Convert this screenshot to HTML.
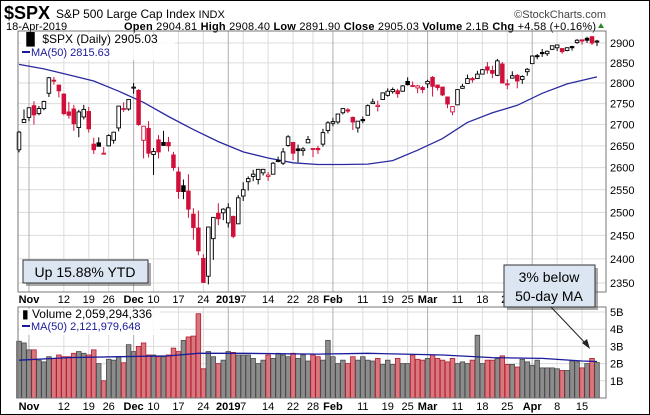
<!DOCTYPE html>
<html><head><meta charset="utf-8">
<style>
body{margin:0;background:#fff;}
svg{display:block;font-family:"Liberation Sans",sans-serif;}
</style></head>
<body>
<svg id="c" width="650" height="415" viewBox="0 0 650 415" xmlns="http://www.w3.org/2000/svg">
<rect x="0.5" y="0.5" width="649" height="414" fill="#fff" stroke="#000"/>
<text x="4" y="19" font-size="18" font-weight="bold">$SPX</text>
<text x="56" y="18" font-size="12">S&amp;P 500 Large Cap Index <tspan font-size="11">INDX</tspan></text>
<text x="606" y="18" font-size="11" fill="#444" text-anchor="end">©StockCharts.com</text>
<text x="6" y="30" font-size="11">18-Apr-2019</text>
<text x="124" y="30" font-size="11" textLength="472" lengthAdjust="spacing"><tspan font-weight="bold">Open</tspan> 2904.81 <tspan font-weight="bold">High</tspan> 2908.40 <tspan font-weight="bold">Low</tspan> 2891.90 <tspan font-weight="bold">Close</tspan> 2905.03 <tspan font-weight="bold">Volume</tspan> 2.1B <tspan font-weight="bold">Chg</tspan> +4.58 (+0.16%)</text>
<path d="M598 28 L604 28 L601 23 Z" fill="#2a8a2a"/>
<g id="grid"></g>
<g id="marks"></g>
<g id="axes"></g>
<rect x="18" y="31" width="588" height="261" fill="none" stroke="#777"/>
<rect x="18" y="307" width="588" height="91" fill="none" stroke="#777"/>
<rect x="20" y="34" width="155" height="26" fill="#fff" opacity="0.85"/>
<text x="22" y="43" font-size="12">&#x2590;&#x258C; $SPX (Daily) 2905.03</text>
<line x1="22" y1="52" x2="30" y2="52" stroke="#1a1a9a" stroke-width="2"/>
<text x="31" y="56" font-size="11" fill="#1a1a9a">MA(50) 2815.63</text>
<rect x="20" y="309" width="140" height="26" fill="#fff" opacity="0.85"/>
<text x="22" y="318" font-size="12">▮ Volume 2,059,294,336</text>
<line x1="22" y1="326" x2="30" y2="326" stroke="#1a1a9a" stroke-width="2"/>
<text x="31" y="330" font-size="11" fill="#1a1a9a">MA(50) 2,121,979,648</text>
<rect x="26" y="263" width="125" height="23" fill="#555" opacity="0.5"/>
<rect x="23" y="260" width="125" height="23" fill="#dce6f2" stroke="#333"/>
<text x="85" y="277" font-size="14" text-anchor="middle">Up 15.88% YTD</text>
<rect x="507" y="268" width="91" height="42" fill="#555" opacity="0.5"/>
<rect x="504" y="265" width="91" height="42" fill="#dce6f2" stroke="#333"/>
<text x="549" y="282" font-size="14" text-anchor="middle">3% below</text>
<text x="549" y="301" font-size="14" text-anchor="middle">50-day MA</text>
<line x1="551" y1="307" x2="587" y2="345" stroke="#222" stroke-width="1"/>
<path d="M590 349 L582 343 L587 339 Z" fill="#222"/>
</svg>
<script>
const dates=["O30","O31","N1","N2","N5","N6","N7","N8","N9","N12","N13","N14","N15","N16","N19","N20","N21","N23","N26","N27","N28","N29","N30","D3","D4","D6","D7","D10","D11","D12","D13","D14","D17","D18","D19","D20","D21","D24","D26","D27","D28","D31","J2","J3","J4","J7","J8","J9","J10","J11","J14","J15","J16","J17","J18","J22","J23","J24","J25","J28","J29","J30","J31","F1","F4","F5","F6","F7","F8","F11","F12","F13","F14","F15","F19","F20","F21","F22","F25","F26","F27","F28","M1","M4","M5","M6","M7","M8","M11","M12","M13","M14","M15","M18","M19","M20","M21","M22","M25","M26","M27","M28","M29","A1","A2","A3","A4","A5","A8","A9","A10","A11","A12","A15","A16","A17","A18"];
const opens=[2641,2705,2717,2745,2726,2738,2775,2807,2795,2773,2730,2737,2693,2718,2731,2654,2657,2633,2650,2663,2692,2737,2737,2790,2782,2663,2691,2630,2664,2658,2658,2629,2590,2559,2547,2496,2466,2401,2364,2443,2498,2499,2477,2491,2475,2536,2568,2580,2573,2588,2580,2585,2614,2610,2651,2658,2643,2639,2657,2644,2644,2654,2686,2703,2706,2728,2735,2717,2692,2712,2722,2750,2743,2760,2770,2779,2781,2780,2804,2792,2788,2789,2798,2814,2795,2790,2766,2730,2747,2787,2799,2811,2811,2822,2840,2831,2819,2847,2796,2812,2819,2809,2828,2848,2868,2876,2873,2884,2888,2886,2881,2891,2901,2908,2912,2916,2905];
const highs=[2685,2736,2741,2756,2744,2757,2815,2815,2796,2775,2754,2747,2735,2747,2742,2669,2670,2647,2677,2683,2744,2753,2760,2800,2785,2696,2708,2645,2675,2685,2671,2636,2601,2573,2585,2509,2504,2410,2468,2489,2520,2509,2520,2493,2538,2567,2580,2595,2597,2597,2590,2613,2625,2645,2675,2659,2653,2647,2673,2644,2650,2690,2708,2716,2725,2738,2739,2719,2708,2719,2748,2762,2757,2775,2787,2789,2786,2795,2814,2804,2795,2793,2808,2817,2796,2791,2767,2744,2784,2798,2821,2815,2830,2835,2852,2843,2860,2852,2809,2829,2822,2819,2837,2869,2872,2885,2881,2893,2895,2886,2889,2893,2910,2909,2916,2918,2908];
const lows=[2635,2705,2708,2700,2722,2734,2766,2796,2765,2722,2714,2685,2670,2712,2681,2631,2649,2631,2649,2655,2684,2730,2733,2774,2697,2621,2623,2583,2621,2651,2637,2593,2530,2529,2488,2441,2408,2351,2347,2398,2472,2483,2467,2444,2475,2525,2548,2569,2562,2582,2570,2585,2612,2606,2648,2617,2612,2627,2657,2624,2631,2648,2679,2696,2701,2724,2727,2687,2681,2703,2722,2749,2731,2760,2767,2774,2764,2779,2794,2790,2775,2775,2788,2767,2782,2768,2739,2722,2747,2786,2799,2801,2810,2821,2823,2812,2817,2800,2785,2812,2787,2798,2818,2848,2859,2865,2867,2882,2880,2873,2879,2881,2898,2896,2900,2895,2892];
const closes=[2682,2712,2740,2723,2738,2755,2813,2806,2781,2726,2722,2702,2730,2736,2690,2641,2649,2633,2674,2682,2744,2738,2760,2790,2700,2696,2633,2637,2636,2651,2650,2600,2546,2546,2507,2467,2417,2351,2468,2489,2486,2507,2510,2448,2532,2550,2575,2585,2596,2596,2583,2610,2616,2636,2671,2633,2639,2643,2665,2644,2641,2681,2704,2707,2725,2738,2732,2706,2708,2709,2745,2754,2746,2776,2780,2784,2774,2793,2796,2794,2793,2784,2804,2792,2789,2771,2749,2743,2784,2792,2811,2808,2822,2833,2832,2824,2855,2800,2798,2818,2805,2816,2834,2867,2867,2873,2879,2893,2895,2878,2888,2888,2907,2905,2907,2900,2905];
const volumes=[3.3,3.2,2.8,2.8,2.2,2.1,2.4,2.3,2.5,2.4,2.4,2.6,2.7,2.6,2.5,2.8,2.0,1.0,2.25,2.2,2.4,2.05,3.1,2.7,3.0,3.2,2.5,2.5,2.4,2.4,2.5,2.9,2.7,3.35,3.55,3.6,4.9,1.7,2.7,2.4,2.0,2.2,2.7,2.65,2.5,2.5,2.5,2.3,2.0,2.2,2.5,2.3,2.6,2.5,2.4,2.6,2.3,2.5,2.15,2.5,2.4,2.2,3.35,2.4,2.0,2.2,2.0,2.4,2.2,2.4,2.2,2.15,2.3,1.95,2.2,1.95,2.3,2.0,2.0,2.5,2.25,2.2,2.3,2.5,2.3,2.2,2.1,2.3,2.0,2.1,2.0,2.2,3.65,2.0,2.2,2.2,2.3,2.45,1.95,1.95,1.8,2.25,2.1,1.9,2.2,1.75,1.75,1.75,1.7,1.6,1.6,2.15,2.1,1.75,2.0,2.3,2.06];
const maIdx=[0,5,10,15,20,25,30,35,40,45,50,55,60,65,70,75,80,85,90,95,100,105,110,116];
const maVals=[2846,2835,2820,2805,2780,2753,2719,2688,2660,2636,2622,2611,2607,2607,2608,2616,2640,2667,2705,2728,2746,2775,2798,2815];
const volMaIdx=[0,10,20,30,36,45,60,70,85,95,105,113,116];
const volMaVals=[2.2,2.35,2.4,2.45,2.6,2.6,2.55,2.6,2.5,2.35,2.3,2.15,2.12];
const priceTicks=[2350,2400,2450,2500,2550,2600,2650,2700,2750,2800,2850,2900];
const volTicks=[1,2,3,4,5];
const volTickLabels=["1B","2B","3B","4B","5B"];
const xTickIdx=[2,9,14,18,23,27,32,37,42,45,50,55,59,63,69,74,78,82,88,93,98,103,108,113];
const xTickLabels=["Nov","12","19","26","Dec","10","17","24","2019","7","14","22","28","Feb","11","19","25","Mar","11","18","25","Apr","8","15"];
const xTickMajor=[1,0,0,0,1,0,0,0,1,0,0,0,0,1,0,0,0,1,0,0,0,1,0,0];

const NS="http://www.w3.org/2000/svg";
const X0=19,X1=597,N=dates.length;
function xS(i){return X0+i*(X1-X0)/(N-1);}
function yP(p){return 43+1141*Math.log(2900/p);}
function yV(v){return 398-v*17.2;}
function mk(tag,attrs,parent){const e=document.createElementNS(NS,tag);for(const k in attrs)e.setAttribute(k,attrs[k]);parent.appendChild(e);return e;}
const grid=document.getElementById('grid'),marks=document.getElementById('marks'),axes=document.getElementById('axes');

priceTicks.forEach(p=>{
  const l=mk('line',{x1:18,x2:606,y1:yP(p),y2:yP(p),stroke:'#dcdcdc'},grid);
  
  
  const t=mk('text',{x:610,y:yP(p)+4,'font-size':11},axes);
  t.textContent=p;
  
  
});
volTicks.forEach((v,k)=>{
  const l=mk('line',{x1:18,x2:606,y1:yV(v),y2:yV(v),stroke:'#dcdcdc'},grid);
  
  
  const t=mk('text',{x:610,y:yV(v)+4,'font-size':11},axes);
  t.textContent=volTickLabels[k];
  
  
});
xTickIdx.forEach((i,k)=>{
  const x=xS(i);
  const c=xTickMajor[k]?'#b0b0b0':'#dcdcdc';
  const l1=mk('line',{x1:x,x2:x,y1:31,y2:292,stroke:c},grid);
  
  
  const l2=mk('line',{x1:x,x2:x,y1:307,y2:398,stroke:c},grid);
  
  
  [303,410].forEach(yy=>{
    const t=mk('text',{x:x,y:yy,'font-size':11,'text-anchor':'middle','font-weight':xTickMajor[k]?'bold':'normal'},axes);
    t.textContent=xTickLabels[k];
    
    
  });
});
volumes.forEach((v,i)=>{
  const down=i>0&&closes[i]<closes[i-1];
  const r=mk('rect',{x:xS(i)-2.3,y:yV(v),width:4.6,height:398-yV(v),fill:down?'#d9777f':'#8c8c8c',stroke:down?'#b01c2e':'#4a4a4a','stroke-width':0.8},marks);
  
  
});
let vd='';volMaIdx.forEach((i,k)=>{vd+=(k?'L':'M')+xS(i).toFixed(1)+' '+yV(volMaVals[k]).toFixed(1);});
const vm=mk('path',{d:vd,fill:'none',stroke:'#1a1a9a','stroke-width':1.3},marks);


let md='';maIdx.forEach((i,k)=>{md+=(k?'L':'M')+xS(i).toFixed(1)+' '+yP(maVals[k]).toFixed(1);});
const ml=mk('path',{d:md,fill:'none',stroke:'#2a2aa0','stroke-width':1.3},marks);


closes.forEach((c,i)=>{
  const o=opens[i],x=xS(i);
  const down=i>0&&c<closes[i-1];
  const col=down?'#d0103a':'#000';
  const g=mk('g',{},marks);
  
  
  mk('line',{x1:x,x2:x,y1:yP(highs[i]),y2:yP(lows[i]),stroke:col,'stroke-width':1},g);
  const top=yP(Math.max(o,c)),bot=yP(Math.min(o,c));
  const h=Math.max(bot-top,1);
  const filled=c<o;
  mk('rect',{x:x-1.8,y:top,width:3.6,height:h,fill:filled?col:'#fff',stroke:col,'stroke-width':0.9},g);
});
</script>
</body></html>
